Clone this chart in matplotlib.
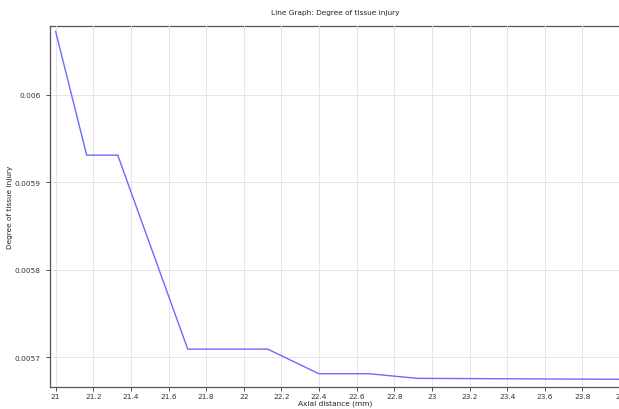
import matplotlib
matplotlib.use("Agg")
import matplotlib.pyplot as plt

x_mm = [21.0, 21.165, 21.330, 21.702, 22.127, 22.399, 22.665, 22.923, 24.0]
injury = [0.0060726, 0.0059311, 0.0059311, 0.0057091, 0.0057091, 0.0056809, 0.0056809, 0.0056756, 0.0056745]
x_ticks = [21, 21.2, 21.4, 21.6, 21.8, 22, 22.2, 22.4, 22.6, 22.8, 23, 23.2, 23.4, 23.6, 23.8, 24]
x_tick_labels = ["21", "21.2", "21.4", "21.6", "21.8", "22", "22.2", "22.4", "22.6", "22.8", "23", "23.2", "23.4", "23.6", "23.8", "24"]
y_ticks = [0.0057, 0.0058, 0.0059, 0.006]
y_tick_labels = ["0.0057", "0.0058", "0.0059", "0.006"]

W, H = 619, 410
fig = plt.figure(figsize=(W / 100, H / 100), dpi=100)
ax = fig.add_axes([50 / W, (H - 388) / H, 570 / W, (388 - 27) / H])

ax.plot(x_mm, injury, color="#6a6aff", linewidth=1.0)

ax.set_xlim(20.97, 24.0)
ax.set_ylim(0.0056657, 0.0060789)
ax.set_xticks(x_ticks)
ax.set_xticklabels(x_tick_labels)
ax.set_yticks(y_ticks)
ax.set_yticklabels(y_tick_labels)

fs = 5.3
ax.tick_params(axis="both", labelsize=fs, colors="#333333", length=3, width=0.6, direction="out")
ax.tick_params(axis="x", pad=1.5)
sec = ax.secondary_xaxis("top")
sec.set_xticks(x_ticks)
sec.tick_params(axis="x", direction="in", length=3, width=0.6, colors="#333333", labeltop=False)
sec.spines["top"].set_color("#555555")
sec.spines["top"].set_linewidth(0.9)
ax.grid(True, color="#e6e6e6", linewidth=0.7)
for side in ["left", "bottom"]:
    ax.spines[side].set_color("#555555")
    ax.spines[side].set_linewidth(0.9)
ax.spines["right"].set_visible(False)
ax.spines["top"].set_visible(False)

ax.set_xlabel("Axial distance (mm)", fontsize=fs, color="#222222")
ax.xaxis.set_label_coords(0.5, (388 - 400.5) / 361)
ax.set_ylabel("Degree of tissue injury", fontsize=fs, color="#222222")
ax.yaxis.set_label_coords((13 - 50) / 570, 0.5)
fig.text(335 / W, 1 - 13 / H, "Line Graph: Degree of tissue injury", fontsize=fs, color="#222222", ha="center", va="center")

fig.savefig("out.png", dpi=100, facecolor="white")
